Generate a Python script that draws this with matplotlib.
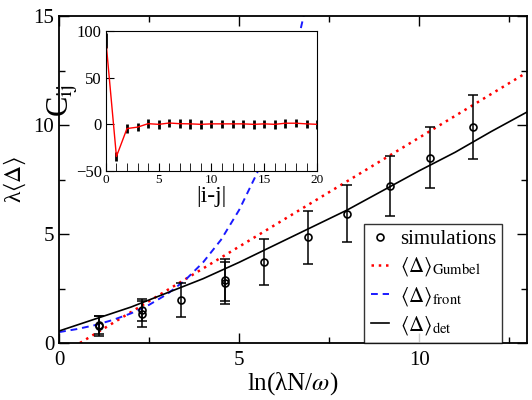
import numpy as np
import matplotlib
matplotlib.use('Agg')
import matplotlib.pyplot as plt

plt.rcParams['font.family'] = ['Liberation Serif', 'DejaVu Serif']
plt.rcParams['mathtext.fontset'] = 'stix'

# simulations (main panel)
sim_x = [1.1, 1.1, 2.3, 2.3, 3.4, 4.6, 4.6, 5.7, 6.9, 8.0, 9.2, 10.3, 11.5]
sim_y = [0.82, 0.78, 1.5, 1.33, 1.97, 2.89, 2.75, 3.72, 4.84, 5.94, 7.2, 8.49, 9.91]
sim_err = [0.42, 0.45, 0.5, 0.6, 0.78, 0.95, 0.95, 1.05, 1.2, 1.3, 1.37, 1.4, 1.45]

# theory curves
gumbel_x = [0.58, 2.0, 4.0, 6.0, 8.0, 10.0, 12.0, 13.0]
gumbel_y = [0.0, 1.42, 3.42, 5.42, 7.42, 9.42, 11.42, 12.42]

front_x = [0.0, 0.5, 1.0, 1.5, 2.0, 2.5, 3.0, 3.5, 4.0, 4.5, 5.0, 5.5, 6.0, 6.5, 7.0]
front_y = [0.5, 0.64, 0.82, 1.06, 1.36, 1.75, 2.24, 2.88, 3.7, 4.74, 6.1, 7.8, 10.0, 12.9, 16.5]

det_x = [0, 1, 2, 3, 4, 5, 6, 7, 8, 9, 10, 11, 12, 13]
det_y = [0.55, 1.1, 1.65, 2.3, 2.95, 3.7, 4.5, 5.3, 6.1, 7.0, 7.9, 8.75, 9.7, 10.6]

# inset: correlation C_ij vs |i-j|
c_x = list(range(21))
c_y = [90, -34.5, -4.5, -3, 0.7, 0, 1.4, 0.7, 0.5, 0, 0.5, 0.5, 0.5, 0.5, 0, 0.5, 0, 1.2, 1.2, 0.5, 0]
c_err = [8, 5, 4.5, 4.5, 4.5, 4.5, 4.5, 4.5, 5, 4.5, 4.5, 4.5, 4.5, 4.5, 4.5, 4.5, 4.5, 5, 4.5, 4.5, 4.5]

fig = plt.figure(figsize=(5.32, 4.0), dpi=100)
ax = fig.add_axes([0.111, 0.1425, 0.88, 0.8175])

ax.errorbar(sim_x, sim_y, yerr=sim_err, fmt='none', ecolor='black', elinewidth=1.1,
            capsize=3.6, capthick=1.1, zorder=3)
ax.plot(sim_x, sim_y, 'o', mfc='none', mec='black', ms=5, mew=1.2, label='simulations', zorder=4)
ax.plot(gumbel_x, gumbel_y, color='red', lw=1.8, ls=(0, (1, 1.9)),
        label=r'$\langle\Delta\rangle_{\rm Gumbel}$')
ax.plot(front_x, front_y, color='#1a1aff', lw=1.4, ls=(0, (3.5, 2.5)),
        label=r'$\langle\Delta\rangle_{\rm front}$')
ax.plot(det_x, det_y, color='black', lw=1.2, label=r'$\langle\Delta\rangle_{\rm det}$')

ax.set_xlim(0, 13)
ax.set_ylim(0, 15)
ax.set_xticks([0, 5, 10])
ax.set_yticks([0, 5, 10, 15])
ax.set_xticks([2.5, 7.5, 12.5], minor=True)
ax.set_yticks([2.5, 7.5, 12.5], minor=True)
ax.tick_params(which='both', direction='in', top=True, right=True, labelsize=15, width=1)
ax.tick_params(which='major', length=7)
ax.tick_params(which='minor', length=4)
ax.tick_params(axis='x', pad=6)
for s in ax.spines.values():
    s.set_linewidth(1.3)
ax.set_xlabel(r'ln(λN/$\omega$)', fontsize=18, labelpad=0)
ax.set_ylabel(r'λ$\langle\Delta\rangle$', fontsize=17)
ax.yaxis.set_label_coords(-0.066, 0.5)

leg = ax.legend(loc='lower right', bbox_to_anchor=(0.947, 0.0), borderaxespad=0,
                fontsize=15, frameon=True, fancybox=False, handlelength=0.9,
                handletextpad=0.5, labelspacing=0.3, borderpad=0.3)
leg.get_frame().set_edgecolor('black')
leg.get_frame().set_linewidth(1.0)

# inset
ins = fig.add_axes([0.199, 0.5725, 0.397, 0.35])
ins.errorbar(c_x, c_y, yerr=c_err, fmt='none', ecolor='black', elinewidth=2, capsize=0)
ins.plot(c_x, c_y, color='red', lw=1)
ins.set_xlim(0, 20)
ins.set_ylim(-50, 100)
ins.set_xticks([0, 5, 10, 15, 20])
ins.set_xticks(range(21), minor=True)
ins.set_yticks([-50, 0, 50, 100])
ins.tick_params(which='both', direction='in', pad=2)
ins.tick_params(axis='x', labelsize=9.5)
ins.tick_params(axis='y', labelsize=12, pad=3)
ins.tick_params(which='major', length=6)
ins.tick_params(which='minor', length=6)
ins.set_xlabel('|i-j|', fontsize=17, labelpad=0)
ins.set_ylabel(r'C$_{\rm ij}$', fontsize=22, labelpad=-3)

fig.savefig('out.png', dpi=100)
